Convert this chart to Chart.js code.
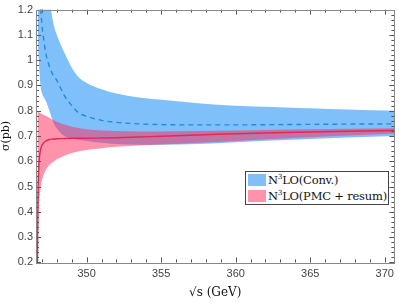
<!DOCTYPE html>
<html>
<head>
<meta charset="utf-8">
<script src="https://cdn.jsdelivr.net/npm/chart.js@4"></script>
<style>
  body { margin: 0; background: #fff; }
  #wrap { position: relative; width: 399px; height: 302px; }
  #legend {
    position: absolute; left: 245px; top: 171px; width: 142px; height: 32px;
    border: 1px solid #444; background: #fff;
    font-family: "DejaVu Serif", serif; font-size: 11.5px; color: #111;
  }
  .row { position: absolute; left: 2px; height: 15px; line-height: 15px; white-space: nowrap; letter-spacing: -0.2px; }
  .sw { display: inline-block; width: 18px; height: 12px; vertical-align: -2px; margin-right: 2px; }
  sup { font-size: 7px; vertical-align: 5px; line-height: 0; }
</style>
</head>
<body>
<div id="wrap">
  <canvas id="myChart" width="399" height="302"></canvas>
  <div id="legend">
    <div class="row" style="top:1px"><span class="sw" style="background:rgb(128,192,250)"></span>N<sup>3</sup>LO(Conv.)</div>
    <div class="row" style="top:17px"><span class="sw" style="background:rgb(255,147,172)"></span>N<sup>3</sup>LO(PMC + resum)</div>
  </div>
</div>
<script>
// sqrt(s) in GeV
var xs =     [346.7, 346.73, 346.77, 346.81, 346.9, 347.0, 347.1, 347.25, 347.5, 347.75, 348, 348.5, 349, 349.5, 350, 351, 352, 353.5, 355, 357.5, 360, 362.5, 365, 367.5, 370.7];
// conventional scale setting band + central value
var blueHi = [4.0, 3.5, 3.0, 2.6, 2.1, 1.8, 1.6, 1.42, 1.25, 1.15, 1.1, 1.03, 0.97, 0.93, 0.91, 0.885, 0.868, 0.852, 0.843, 0.83, 0.82, 0.815, 0.81, 0.805, 0.80];
var blueMid = [2.2, 1.9, 1.6, 1.42, 1.23, 1.14, 1.09, 1.03, 0.975, 0.94, 0.92, 0.86, 0.82, 0.79, 0.778, 0.762, 0.754, 0.748, 0.745, 0.744, 0.744, 0.745, 0.746, 0.747, 0.748];
var blueLo = [1.25, 1.1, 1.02, 0.975, 0.9, 0.87, 0.855, 0.84, 0.80, 0.755, 0.73, 0.70, 0.69, 0.684, 0.68, 0.673, 0.668, 0.665, 0.665, 0.668, 0.675, 0.682, 0.688, 0.694, 0.70];
// PMC + resummation band + central value
var pinkHi = [0.795, 0.795, 0.794, 0.793, 0.79, 0.787, 0.784, 0.78, 0.772, 0.763, 0.756, 0.745, 0.737, 0.731, 0.727, 0.722, 0.72, 0.718, 0.718, 0.72, 0.722, 0.725, 0.727, 0.729, 0.731];
var pinkLo = [0.2, 0.3, 0.38, 0.43, 0.49, 0.525, 0.545, 0.565, 0.585, 0.598, 0.608, 0.622, 0.633, 0.64, 0.645, 0.652, 0.657, 0.662, 0.666, 0.673, 0.68, 0.688, 0.695, 0.702, 0.71];
var redMid = [0.2, 0.45, 0.55, 0.6, 0.645, 0.663, 0.672, 0.68, 0.686, 0.688, 0.689, 0.69, 0.691, 0.691, 0.691, 0.692, 0.693, 0.696, 0.699, 0.704, 0.709, 0.713, 0.716, 0.719, 0.722];
var xTicks = [350, 355, 360, 365, 370];
var yTicks = [0.2, 0.3, 0.4, 0.5, 0.6, 0.7, 0.8, 0.9, 1, 1.1, 1.2];

function pts(ys) {
  return xs.map(function (x, i) { return {x: x, y: ys[i]}; });
}

function line(ys, extra) {
  var d = {
    data: pts(ys),
    pointRadius: 0,
    borderWidth: 0,
    borderColor: 'transparent',
    fill: false,
    cubicInterpolationMode: 'monotone'
  };
  for (var k in extra) d[k] = extra[k];
  return d;
}

// inward ticks on all four sides + frame
const frameTicks = {
  id: 'frameTicks',
  afterDraw(chart) {
    const ctx = chart.ctx, a = chart.chartArea;
    const xs_ = chart.scales.x, ys_ = chart.scales.y;
    ctx.save();
    ctx.strokeStyle = '#555';
    ctx.lineWidth = 1;
    ctx.beginPath();
    for (let v = 347; v <= 370; v++) {
      const px = Math.round(xs_.getPixelForValue(v)) + 0.5;
      const len = v % 5 === 0 ? 5 : 3;
      ctx.moveTo(px, a.bottom); ctx.lineTo(px, a.bottom - len);
      ctx.moveTo(px, a.top); ctx.lineTo(px, a.top + len);
    }
    for (let i = 0; i <= 50; i++) {
      const v = 0.2 + i * 0.02;
      const py = Math.round(ys_.getPixelForValue(v)) + 0.5;
      const len = i % 5 === 0 ? 5 : 3;
      ctx.moveTo(a.left, py); ctx.lineTo(a.left + len, py);
      ctx.moveTo(a.right, py); ctx.lineTo(a.right - len, py);
    }
    ctx.stroke();
    ctx.strokeStyle = '#888';
    ctx.strokeRect(Math.round(a.left) + 0.5, Math.round(a.top) + 0.5,
                   Math.round(a.right - a.left), Math.round(a.bottom - a.top));
    ctx.restore();
  }
};

const config = {
  type: 'line',
  data: {
    datasets: [
      line(redMid, {borderColor: 'rgb(230,40,80)', borderWidth: 1.4}),
      line(blueMid, {borderColor: 'rgb(30,136,229)', borderWidth: 1.4, borderDash: [5, 4]}),
      line(pinkLo, {}),
      line(pinkHi, {fill: '-1', backgroundColor: 'rgba(255,40,90,0.5)'}),
      line(blueLo, {}),
      line(blueHi, {fill: '-1', backgroundColor: 'rgb(128,192,250)'})
    ]
  },
  options: {
    responsive: false,
    animation: false,
    layout: {padding: {top: 6, right: 4, left: 0, bottom: 0}},
    plugins: {legend: {display: false}, tooltip: {enabled: false}},
    scales: {
      x: {
        type: 'linear',
        min: 346.6,
        max: 370.65,
        afterBuildTicks: function (s) { s.ticks = xTicks.map(function (v) { return {value: v}; }); },
        grid: {display: false, drawTicks: false},
        border: {display: false},
        ticks: {
          color: '#444', padding: 5,
          font: {family: 'Liberation Sans', size: 11},
          maxRotation: 0
        },
        title: {
          display: true, text: '√s (GeV)', color: '#111',
          font: {family: 'DejaVu Serif', size: 12}, padding: {top: 0, bottom: 2}
        }
      },
      y: {
        min: 0.2,
        max: 1.2,
        afterBuildTicks: function (s) { s.ticks = yTicks.map(function (v) { return {value: v}; }); },
        afterFit: function (s) { s.width = 36; },
        grid: {display: false, drawTicks: false},
        border: {display: false},
        ticks: {
          color: '#444', padding: 3,
          font: {family: 'Liberation Sans', size: 11},
          callback: function (v) { return String(Math.round(v * 10) / 10); }
        },
        title: {
          display: true, text: 'σ(pb)', color: '#111',
          font: {family: 'DejaVu Serif', size: 11}, padding: 0
        }
      }
    }
  },
  plugins: [frameTicks]
};

const myChart = new Chart(document.getElementById('myChart'), config);
</script>
</body>
</html>
